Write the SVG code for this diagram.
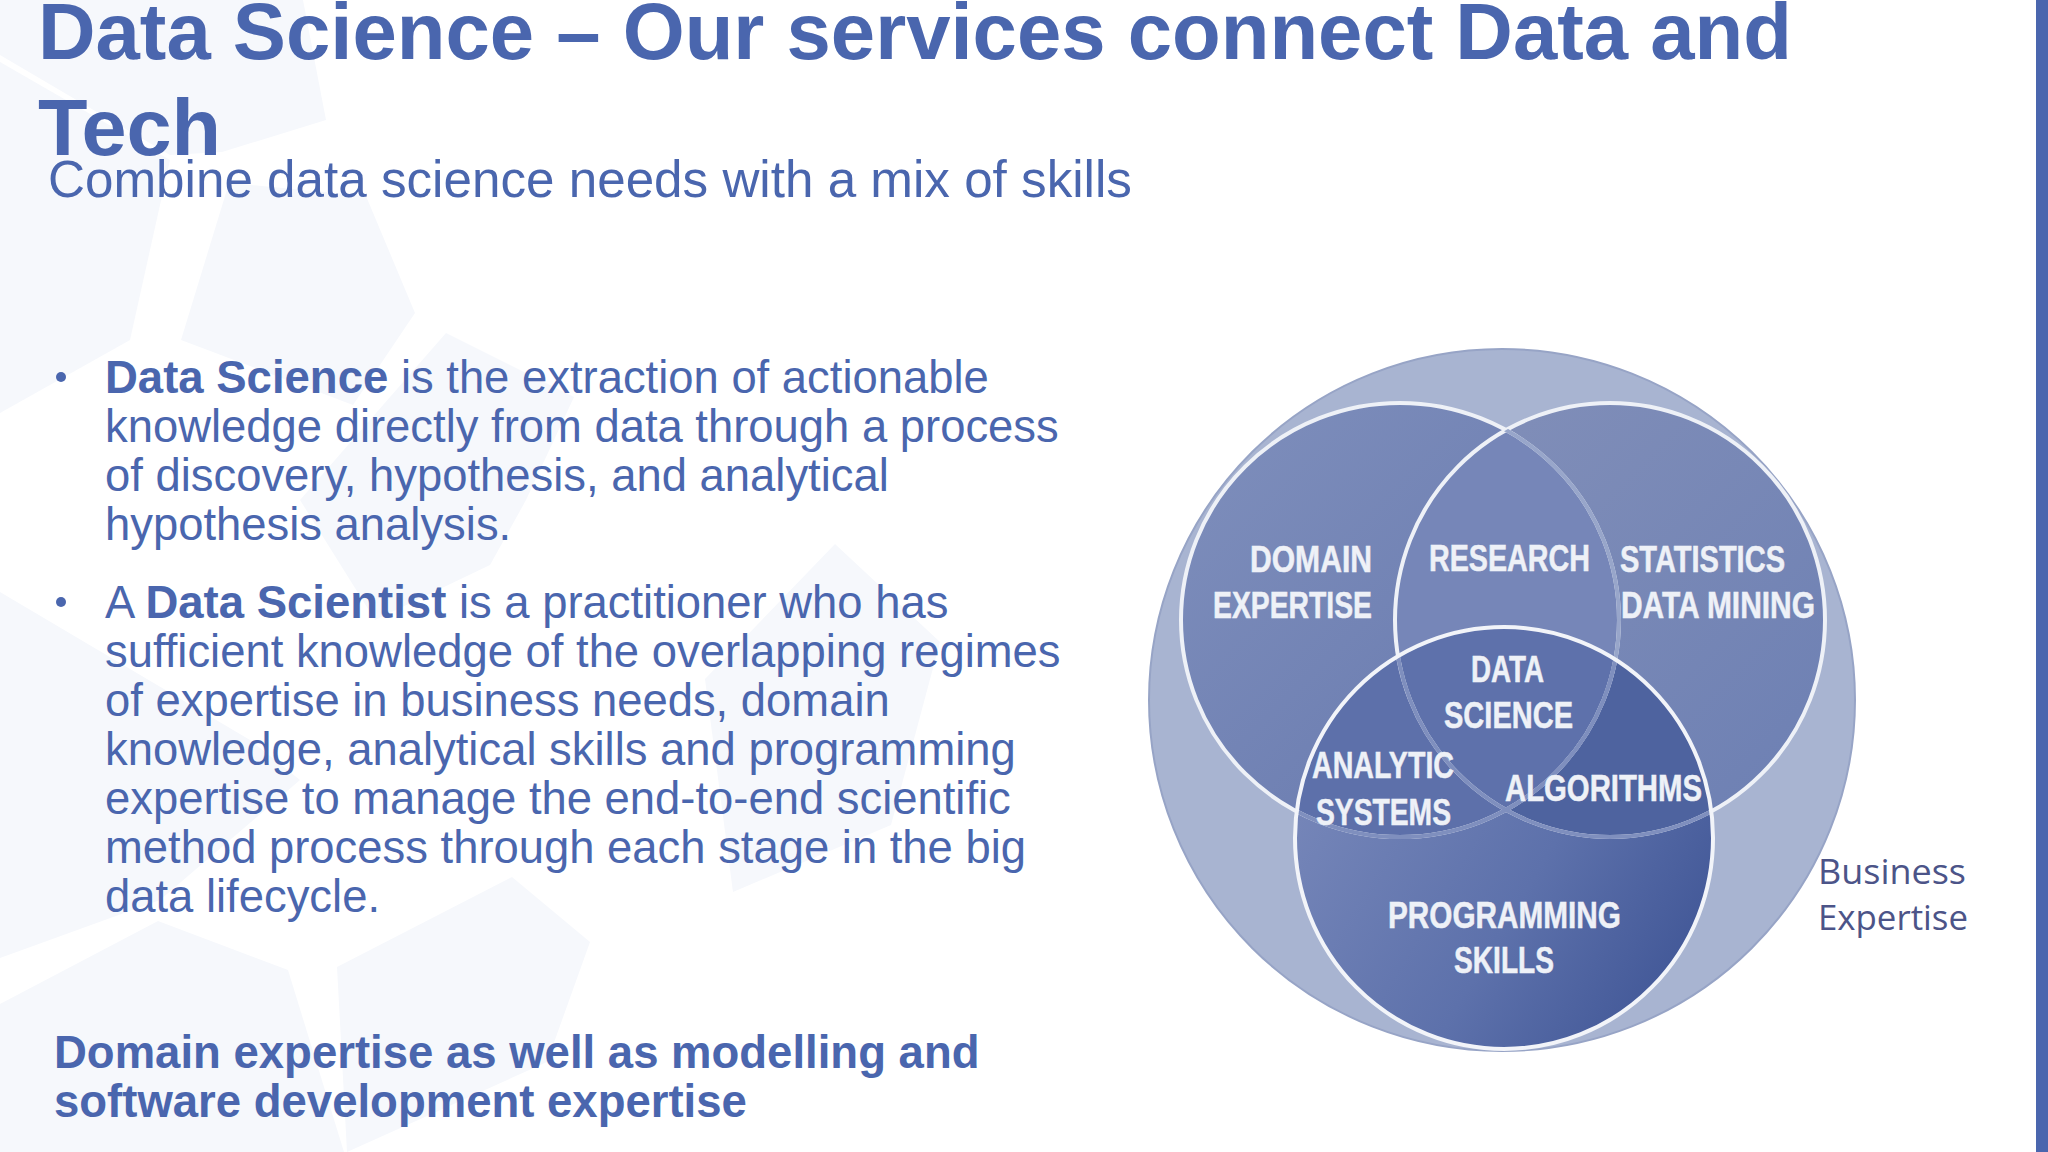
<svg xmlns="http://www.w3.org/2000/svg" width="2048" height="1152" viewBox="0 0 2048 1152">
<style>
.bg{fill:#f6f8fc}
text{font-family:"Liberation Sans",Arial,sans-serif;fill:#4a66ae}
.t{font-size:79.7px;font-weight:700}
.s{font-size:51.2px}
.b{font-size:45.4px}
.bd{font-size:45.5px;font-weight:700}
.l{font-size:36px;font-weight:700;fill:#eef1f7;stroke:#eef1f7;stroke-width:.5px}
.k{font-size:35px;fill:#4c5488;font-family:"Open Sans","Liberation Sans",sans-serif}
</style>
<defs>
<linearGradient id="ga" x1="0" y1="0" x2="1" y2="1"><stop offset="0" stop-color="#7f8fbc"/><stop offset="1" stop-color="#6577ad"/></linearGradient>
<linearGradient id="gb" x1="0" y1="0" x2="1" y2="1"><stop offset="0" stop-color="#8390b9"/><stop offset="1" stop-color="#6c7fb3"/></linearGradient>
<linearGradient id="gc" x1="0" y1="0.3" x2="1" y2="0.9"><stop offset="0" stop-color="#7888ba"/><stop offset="0.55" stop-color="#5d71ab"/><stop offset="1" stop-color="#3c5293"/></linearGradient>
<clipPath id="cA"><ellipse cx="1400" cy="620" rx="219" ry="217"/></clipPath>
<clipPath id="cB"><ellipse cx="1610" cy="620" rx="215" ry="217"/></clipPath>
<clipPath id="cC"><ellipse cx="1504" cy="838" rx="209" ry="211"/></clipPath>
</defs>
<rect width="2048" height="1152" fill="#ffffff"/>
<g id="background">
<polygon class="bg" points="0,0 303,0 326,120 222,152 170,155 0,55"/>
<polygon class="bg" points="229,183 366,196 415,313 353,405 181,340"/>
<polygon class="bg" points="0,62 170,160 130,340 0,413"/>
<polygon class="bg" points="446,333 574,397 526,500 490,565 375,620 300,500"/>
<polygon class="bg" points="0,592 250,740 300,780 160,900 0,958"/>
<polygon class="bg" points="835,544 940,642 891,825 733,892 705,679"/>
<polygon class="bg" points="512,877 590,942 547,1062 347,1152 337,967"/>
<polygon class="bg" points="0,1004 158,921 288,970 344,1152 0,1152"/>
</g>
<rect id="stripe" x="2036" y="0" width="12" height="1152" fill="#4a66ae"/>
<g id="title"><text class="t" x="38" y="59">Data Science – Our services connect Data and</text><text class="t" x="38" y="155" textLength="183" lengthAdjust="spacingAndGlyphs">Tech</text></g>
<text id="subtitle" class="s" x="48" y="197">Combine data science needs with a mix of skills</text>
<g id="body">
<circle cx="61" cy="377" r="5" fill="#4a66ae"/>
<text class="b" x="105" y="393"><tspan class="bd">Data Science</tspan> is the extraction of actionable</text>
<text class="b" x="105" y="442">knowledge directly from data through a process</text>
<text class="b" x="105" y="491">of discovery, hypothesis, and analytical</text>
<text class="b" x="105" y="540">hypothesis analysis.</text>
<circle cx="61" cy="602" r="5" fill="#4a66ae"/>
<text class="b" x="105" y="618">A <tspan class="bd">Data Scientist</tspan> is a practitioner who has</text>
<text class="b" x="105" y="667">sufficient knowledge of the overlapping regimes</text>
<text class="b" x="105" y="716">of expertise in business needs, domain</text>
<text class="b" x="105" y="765">knowledge, analytical skills and programming</text>
<text class="b" x="105" y="814">expertise to manage the end-to-end scientific</text>
<text class="b" x="105" y="863">method process through each stage in the big</text>
<text class="b" x="105" y="912">data lifecycle.</text>
<text class="bd" x="54" y="1068">Domain expertise as well as modelling and</text>
<text class="bd" x="54" y="1117">software development expertise</text>
</g>
<g id="venn">
<g id="business"><ellipse cx="1502" cy="700" rx="353" ry="351" fill="#a8b4d1" stroke="#97a4c6" stroke-width="2"/></g>
<g id="domain"><ellipse cx="1400" cy="620" rx="219" ry="217" fill="url(#ga)"/></g>
<g id="statistics"><ellipse cx="1610" cy="620" rx="215" ry="217" fill="url(#gb)"/></g>
<g clip-path="url(#cA)"><ellipse cx="1610" cy="620" rx="215" ry="217" fill="#7686b8"/></g>
<g id="programming"><ellipse cx="1504" cy="838" rx="209" ry="211" fill="url(#gc)"/></g>
<g clip-path="url(#cC)"><ellipse cx="1400" cy="620" rx="219" ry="217" fill="#5d70aa"/><ellipse cx="1610" cy="620" rx="215" ry="217" fill="#4e639f"/><g clip-path="url(#cA)"><ellipse cx="1610" cy="620" rx="215" ry="217" fill="#5e71ab"/></g></g>
<ellipse cx="1400" cy="620" rx="219" ry="217" fill="none" stroke="#eef1f7" stroke-width="4"/>
<ellipse cx="1610" cy="620" rx="215" ry="217" fill="none" stroke="#eef1f7" stroke-width="4"/>
<g clip-path="url(#cB)"><ellipse cx="1400" cy="620" rx="219" ry="217" fill="none" stroke="#98a6ca" stroke-width="4"/></g>
<g clip-path="url(#cC)"><ellipse cx="1610" cy="620" rx="215" ry="217" fill="none" stroke="#7f8fbe" stroke-width="4"/><ellipse cx="1400" cy="620" rx="219" ry="217" fill="none" stroke="#7f8fbe" stroke-width="4"/></g>
<ellipse cx="1504" cy="838" rx="209" ry="211" fill="none" stroke="#f2f4f9" stroke-width="4"/>
</g>
<g id="labels">
<text class="l" x="1250" y="572" textLength="122" lengthAdjust="spacingAndGlyphs">DOMAIN</text>
<text class="l" x="1213" y="618" textLength="159" lengthAdjust="spacingAndGlyphs">EXPERTISE</text>
<text class="l" x="1429" y="571" textLength="161" lengthAdjust="spacingAndGlyphs">RESEARCH</text>
<text class="l" x="1620" y="572" textLength="165" lengthAdjust="spacingAndGlyphs">STATISTICS</text>
<text class="l" x="1621" y="618" textLength="194" lengthAdjust="spacingAndGlyphs">DATA MINING</text>
<text class="l" x="1471" y="682" textLength="73" lengthAdjust="spacingAndGlyphs">DATA</text>
<text class="l" x="1444" y="728" textLength="129" lengthAdjust="spacingAndGlyphs">SCIENCE</text>
<text class="l" x="1312" y="778" textLength="142" lengthAdjust="spacingAndGlyphs">ANALYTIC</text>
<text class="l" x="1316" y="825" textLength="135" lengthAdjust="spacingAndGlyphs">SYSTEMS</text>
<text class="l" x="1505" y="801" textLength="197" lengthAdjust="spacingAndGlyphs">ALGORITHMS</text>
<text class="l" x="1388" y="928" textLength="233" lengthAdjust="spacingAndGlyphs">PROGRAMMING</text>
<text class="l" x="1454" y="973" textLength="100" lengthAdjust="spacingAndGlyphs">SKILLS</text>
<text class="k" x="1818" y="884" textLength="148" lengthAdjust="spacingAndGlyphs">Business</text>
<text class="k" x="1818" y="930" textLength="150" lengthAdjust="spacingAndGlyphs">Expertise</text>
</g>
</svg>
